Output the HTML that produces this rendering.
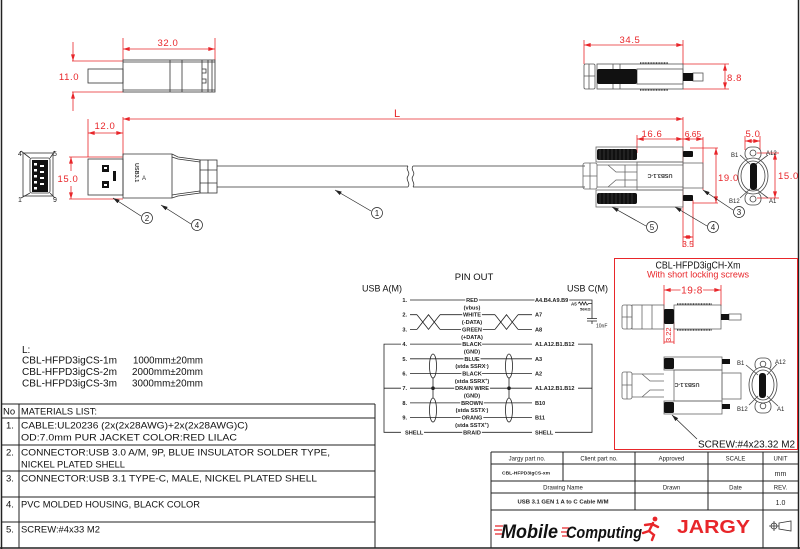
<!DOCTYPE html>
<html><head><meta charset="utf-8"><style>
html,body{margin:0;padding:0;background:#fff;}
svg{display:block;}
.t{font-family:"Liberation Sans",Arial,sans-serif;}
.r{fill:#e8262a;font-size:9.5px;letter-spacing:0.6px;}
.p{font-size:5.6px;font-weight:bold;fill:#222;}
.h{stroke:#fff;stroke-width:2.5px;paint-order:stroke;}
.m{font-size:9.5px;fill:#111;}
.tb{font-size:6px;fill:#222;}
</style></head><body>
<svg width="800" height="549" viewBox="0 0 800 549" xmlns="http://www.w3.org/2000/svg" class="t">
<defs>
<marker id="a" viewBox="0 0 10 6" refX="10" refY="3" markerWidth="7" markerHeight="4" orient="auto-start-reverse" markerUnits="userSpaceOnUse"><path d="M0,0L10,3L0,6z" fill="#e8262a"/></marker>
<marker id="k" viewBox="0 0 10 6" refX="10" refY="3" markerWidth="7" markerHeight="4" orient="auto-start-reverse" markerUnits="userSpaceOnUse"><path d="M0,0L10,3L0,6z" fill="#222"/></marker>
</defs>
<rect width="800" height="549" fill="#fff"/>
<!-- page border -->
<path d="M1.5,0V549 M798.5,0V549 M0,548H800" stroke="#222" stroke-width="1.5" fill="none"/>

<!-- ===== TOP LEFT USB-A top view ===== -->
<g stroke="#e8262a" stroke-width="0.8" fill="none">
<path d="M123,38V60 M215,38V60 M72,61H123 M72,92H123"/>
<line x1="123" y1="49" x2="215" y2="49" marker-start="url(#a)" marker-end="url(#a)"/>
<line x1="73" y1="42" x2="73" y2="61" marker-end="url(#a)"/>
<line x1="73" y1="111" x2="73" y2="92" marker-end="url(#a)"/>
</g>
<text class="r" x="168" y="46" text-anchor="middle">32.0</text>
<text class="r" x="69" y="80" text-anchor="middle">11.0</text>
<g stroke="#333" stroke-width="0.8" fill="none">
<rect x="88" y="69" width="35" height="14"/>
<rect x="123" y="60" width="92" height="32"/>
<path d="M170,60V92 M182,60V92 M202,60V92 M208,60V92 M212,60V92 M123,62H215 M123,90H215 M202,69H206V73H202 M202,79H206V83H202"/>
</g>

<!-- ===== MIDDLE LEFT USB-A ===== -->
<!-- face -->
<g stroke="#333" stroke-width="0.8" fill="none">
<rect x="23" y="153" width="30" height="43"/>
<rect x="30" y="158" width="20" height="35" rx="2"/>
<path d="M21,151L30,158 M55,151L50,158 M21,198L30,193 M55,198L50,193"/>
</g>
<rect x="32" y="160" width="16" height="32" fill="#111"/>
<g fill="#fff">
<rect x="34" y="163" width="3" height="2.5"/><rect x="34" y="169" width="3" height="2.5"/><rect x="34" y="175" width="3" height="2.5"/><rect x="34" y="181" width="3" height="2.5"/><rect x="34" y="187" width="3" height="2.5"/>
<rect x="40" y="165" width="4" height="2"/><rect x="40" y="171" width="4" height="2"/><rect x="40" y="177" width="4" height="2"/><rect x="40" y="183" width="4" height="2"/>
</g>
<g font-size="7" fill="#222"><text x="18" y="156">4</text><text x="53" y="156">5</text><text x="18" y="202">1</text><text x="53" y="202">9</text></g>

<g stroke="#e8262a" stroke-width="0.8" fill="none">
<path d="M88,119V157 M123,117V156 M69,157H123 M69,199H123"/>
<line x1="88" y1="133" x2="123" y2="133" marker-start="url(#a)" marker-end="url(#a)"/>
<line x1="123" y1="119" x2="683" y2="119" marker-start="url(#a)" marker-end="url(#a)"/>
<line x1="71" y1="171" x2="71" y2="157" marker-end="url(#a)"/>
<line x1="71" y1="186" x2="71" y2="199" marker-end="url(#a)"/>
</g>
<text class="r" x="105" y="129" text-anchor="middle">12.0</text>
<text x="397" y="117" fill="#e8262a" font-size="11" text-anchor="middle">L</text>
<text class="r" x="68" y="182" text-anchor="middle" style="stroke:#fff;stroke-width:2px;paint-order:stroke">15.0</text>

<g stroke="#333" stroke-width="0.8" fill="none">
<rect x="88" y="159" width="35" height="36"/>
<path d="M123,154H172L178,157L200,160V193L178,196L172,198H123Z"/>
<path d="M172,157L178,159L200,162 M172,195L178,194L200,191 M172,154V198"/>
<rect x="200" y="160" width="17" height="33"/>
<path d="M208,160V193 M200,170H217 M200,183H217"/>
<path d="M217,166H408 M217,187H408 M413,166H585 M413,187H585"/>
<path d="M408,166C405,170 411,172 408,176C405,180 411,183 408,187 M413,166C410,170 416,172 413,176C410,180 416,183 413,187"/>
</g>
<rect x="102" y="165" width="7" height="7" fill="#111"/><rect x="104" y="167" width="3" height="2" fill="#fff"/>
<rect x="102" y="181" width="7" height="7" fill="#111"/><rect x="104" y="184" width="3" height="2" fill="#fff"/>
<rect x="113" y="171" width="3" height="10" fill="#111"/>
<text x="135" y="163" font-size="5.5" font-weight="bold" fill="#333" transform="rotate(90 135 163)">USB3.1</text>
<text x="144" y="180" font-size="6" fill="#333" text-anchor="middle">A</text>

<!-- callouts left -->
<g stroke="#222" stroke-width="0.7" fill="none">
<line x1="141" y1="216" x2="113" y2="198" marker-end="url(#k)"/>
<line x1="191" y1="224" x2="161" y2="205" marker-end="url(#k)"/>
<line x1="371" y1="211" x2="335" y2="190" marker-end="url(#k)"/>
<circle cx="147" cy="218" r="5.5"/><circle cx="197" cy="225" r="5.5"/><circle cx="377" cy="213" r="5.5"/>
</g>
<g font-size="8" fill="#222" text-anchor="middle"><text x="147" y="221">2</text><text x="197" y="228">4</text><text x="377" y="216">1</text></g>

<!-- ===== TOP RIGHT Type-C top view ===== -->
<g stroke="#e8262a" stroke-width="0.8" fill="none">
<path d="M584,40V64 M683,40V64 M683,64H729 M683,89H729"/>
<line x1="584" y1="45" x2="683" y2="45" marker-start="url(#a)" marker-end="url(#a)"/>
<line x1="725" y1="64" x2="725" y2="89" marker-start="url(#a)" marker-end="url(#a)"/>
</g>
<text class="r" x="630" y="43" text-anchor="middle">34.5</text>
<text class="r" x="727" y="81">8.8</text>
<g stroke="#555" stroke-width="0.8" fill="none">
<rect x="584" y="64" width="11" height="25" rx="1.5"/>
<path d="M589,64V89 M584,76H595"/>
<rect x="597" y="64" width="86" height="25"/>
<rect x="637" y="69" width="46" height="15"/>
<rect x="693" y="73" width="10" height="8"/>
<path d="M613,64V89 M620,64V89"/>
</g>
<rect x="597" y="69" width="40" height="15" rx="2" fill="#111"/>
<rect x="683" y="73" width="10" height="8" fill="#111"/>
<path d="M640,63H668 M640,90H668" stroke="#222" stroke-width="1.3" stroke-dasharray="1,0.6"/>

<!-- ===== MIDDLE RIGHT Type-C side view ===== -->
<g stroke="#e8262a" stroke-width="0.8" fill="none">
<path d="M683,117V247 M637,135V153 M703,137V190 M693,200V247 M690,148H718 M693,203H718 M745,136V150 M760,136V150 M757,153H779 M757,198H779"/>
<line x1="637" y1="139" x2="683" y2="139" marker-start="url(#a)" marker-end="url(#a)"/>
<line x1="683" y1="139" x2="703" y2="139" marker-start="url(#a)" marker-end="url(#a)"/>
<line x1="683" y1="237" x2="693" y2="237" marker-start="url(#a)" marker-end="url(#a)"/>
<line x1="716" y1="148" x2="716" y2="203" marker-start="url(#a)" marker-end="url(#a)"/>
<line x1="745" y1="141" x2="760" y2="141" marker-start="url(#a)" marker-end="url(#a)"/>
<line x1="775" y1="153" x2="775" y2="198" marker-start="url(#a)" marker-end="url(#a)"/>
</g>
<text class="r" x="652" y="137" text-anchor="middle">16.6</text>
<text class="r" x="693" y="137" text-anchor="middle" font-size="8.5" style="font-size:8.5px;letter-spacing:0">6.65</text>
<text class="r" x="688" y="247" text-anchor="middle" style="font-size:8.5px;letter-spacing:0">3.5</text>
<text class="r" x="718" y="181">19.0</text>
<text class="r" x="753" y="137" text-anchor="middle">5.0</text>
<text class="r" x="778" y="179">15.0</text>

<g stroke="#666" stroke-width="0.8" fill="none">
<rect x="596" y="147" width="87" height="15"/>
<rect x="596" y="190" width="87" height="17"/>
<rect x="637" y="162" width="46" height="28"/>
<rect x="683" y="163" width="20" height="25"/>
<rect x="583" y="163" width="14" height="26" rx="2"/>
<path d="M590,163V189 M583,176H597 M597,165H637 M597,187H637 M608,165L616,172H637 M608,187L616,180H637 M625,165V187"/>
<path d="M637,165H683 M637,187H683"/>
</g>
<rect x="597" y="149" width="40" height="11" rx="2" fill="#111"/>
<rect x="597" y="193" width="40" height="11" rx="2" fill="#111"/>
<path d="M600,149V160M604,149V160M608,149V160M612,149V160M616,149V160M620,149V160M624,149V160M628,149V160M632,149V160 M600,193V204M604,193V204M608,193V204M612,193V204M616,193V204M620,193V204M624,193V204M628,193V204M632,193V204" stroke="#555" stroke-width="0.5"/>
<rect x="683" y="151" width="10" height="6" rx="1" fill="#111"/>
<rect x="683" y="195" width="10" height="6" rx="1" fill="#111"/>
<text x="660" y="178" font-size="5.5" font-weight="bold" fill="#333" text-anchor="middle" transform="rotate(180 660 176)">USB3.1-C</text>

<!-- face view C -->
<g stroke="#444" stroke-width="0.8" fill="none">
<rect x="745" y="147" width="16" height="13" rx="6"/>
<rect x="745" y="192" width="16" height="13" rx="6"/>
<ellipse cx="753" cy="176" rx="15" ry="18" fill="#fff"/>
<ellipse cx="753" cy="176" rx="12" ry="15"/>
<circle cx="753" cy="153" r="3"/>
<circle cx="753" cy="199" r="3"/>
<path d="M740,155L750,164 M768,155L756,164 M740,198L750,189 M768,198L756,189"/>
</g>
<rect x="750" y="163" width="7" height="27" rx="3" fill="#111"/>
<g font-size="6" fill="#222"><text x="731" y="157">B1</text><text x="766" y="155">A12</text><text x="729" y="203">B12</text><text x="769" y="203">A1</text></g>

<!-- callouts right -->
<g stroke="#222" stroke-width="0.7" fill="none">
<line x1="646" y1="226" x2="612" y2="207" marker-end="url(#k)"/>
<line x1="707" y1="226" x2="675" y2="207" marker-end="url(#k)"/>
<line x1="733" y1="210" x2="703" y2="190" marker-end="url(#k)"/>
<circle cx="652" cy="227" r="5.5"/><circle cx="713" cy="227" r="5.5"/><circle cx="739" cy="212" r="5.5"/>
</g>
<g font-size="8" fill="#222" text-anchor="middle"><text x="652" y="230">5</text><text x="713" y="230">4</text><text x="739" y="215">3</text></g>

<!-- ===== L list ===== -->
<g font-size="10" fill="#111">
<text x="22" y="353">L:</text>
<text x="22" y="363.5" textLength="95" lengthAdjust="spacingAndGlyphs">CBL-HFPD3igCS-1m</text><text x="133" y="363.5" textLength="70" lengthAdjust="spacingAndGlyphs">1000mm±20mm</text>
<text x="22" y="375" textLength="95" lengthAdjust="spacingAndGlyphs">CBL-HFPD3igCS-2m</text><text x="132" y="375" textLength="71" lengthAdjust="spacingAndGlyphs">2000mm±20mm</text>
<text x="22" y="386.5" textLength="95" lengthAdjust="spacingAndGlyphs">CBL-HFPD3igCS-3m</text><text x="132" y="386.5" textLength="71" lengthAdjust="spacingAndGlyphs">3000mm±20mm</text>
</g>

<!-- ===== Materials table ===== -->
<path d="M1,404H375 M1,418H375 M1,445H375 M1,471H375 M1,497H375 M1,522H375 M19,404V548 M375,404V548" stroke="#222" stroke-width="1" fill="none"/>
<g class="m">
<text x="3" y="414.5">No</text><text x="21" y="414.5" textLength="76" lengthAdjust="spacingAndGlyphs">MATERIALS LIST:</text>
<text x="6" y="428.5">1.</text><text x="21" y="428.5" textLength="227" lengthAdjust="spacingAndGlyphs">CABLE:UL20236 (2x(2x28AWG)+2x(2x28AWG)C)</text>
<text x="21" y="440.5" textLength="216" lengthAdjust="spacingAndGlyphs">OD:7.0mm  PUR JACKET COLOR:RED LILAC</text>
<text x="6" y="455.5">2.</text><text x="21" y="455.5" textLength="309" lengthAdjust="spacingAndGlyphs">CONNECTOR:USB 3.0 A/M, 9P, BLUE INSULATOR SOLDER TYPE,</text>
<text x="21" y="467.5" textLength="104" lengthAdjust="spacingAndGlyphs">NICKEL PLATED SHELL</text>
<text x="6" y="481.5">3.</text><text x="21" y="481.5" textLength="296" lengthAdjust="spacingAndGlyphs">CONNECTOR:USB 3.1 TYPE-C, MALE, NICKEL PLATED SHELL</text>
<text x="6" y="507.5">4.</text><text x="21" y="507.5" textLength="179" lengthAdjust="spacingAndGlyphs">PVC MOLDED HOUSING, BLACK COLOR</text>
<text x="6" y="532.5">5.</text><text x="21" y="532.5" textLength="79" lengthAdjust="spacingAndGlyphs">SCREW:#4x33 M2</text>
</g>

<!-- ===== PIN OUT ===== -->
<g font-size="9.5" fill="#111">
<text x="474" y="280" text-anchor="middle">PIN OUT</text>
<text x="362" y="291.5" textLength="40" lengthAdjust="spacingAndGlyphs">USB A(M)</text>
<text x="567" y="291.5" textLength="41" lengthAdjust="spacingAndGlyphs">USB C(M)</text>
</g>
<g stroke="#222" stroke-width="0.8" fill="none">
<!-- row lines -->
<path d="M410,300H564 M410,344.1H532 M410,358.8H532 M410,373.5H532 M410,388.2H532 M410,402.9H532 M410,417.6H532 M424,432.3H532"/>
<path d="M410,314.7H417 M410,329.4H417 M440,314.7H495 M440,329.4H495 M518,314.7H532 M518,329.4H532"/>
<path d="M417,314.7L428.5,329.4L440,314.7 M417,329.4L428.5,314.7L440,329.4 M495,314.7L506.5,329.4L518,314.7 M495,329.4L506.5,314.7L518,329.4"/>
<!-- brackets -->
<path d="M401,344.1H384V432.3H401 M384,388.2H401"/>
<path d="M578,344.1H592V432.3H555 M578,388.2H592"/>
<path d="M564,300H592V318.5 M587,318.5H597 M587,321H597 M592,321V324"/>
<path d="M578,303.5l1.5,-1.5l1.5,3l1.5,-3l1.5,3l1.5,-3l1.5,3l1.5,-1.5H592"/>
<!-- shields -->
<ellipse cx="433" cy="366" rx="3.5" ry="12"/><ellipse cx="433" cy="410" rx="3.5" ry="12"/>
<ellipse cx="509" cy="366" rx="3.5" ry="12"/><ellipse cx="509" cy="410" rx="3.5" ry="12"/>
<path d="M433,378V398 M509,378V398"/>
</g>
<circle cx="433" cy="388.2" r="1.8" fill="#222"/><circle cx="509" cy="388.2" r="1.8" fill="#222"/>
<g class="p">
<g text-anchor="end">
<text x="407" y="302">1.</text><text x="407" y="316.7">2.</text><text x="407" y="331.4">3.</text><text x="407" y="346.1">4.</text><text x="407" y="360.8">5.</text><text x="407" y="375.5">6.</text><text x="407" y="390.2">7.</text><text x="407" y="404.9">8.</text><text x="407" y="419.6">9.</text>
</g>
<text x="405" y="434.3">SHELL</text>
<g text-anchor="middle">
<text class="h" x="472" y="302">RED</text><text class="h" x="472" y="316.7">WHITE</text><text class="h" x="472" y="331.4">GREEN</text><text class="h" x="472" y="346.1">BLACK</text><text class="h" x="472" y="360.8">BLUE</text><text class="h" x="472" y="375.5">BLACK</text><text class="h" x="472" y="390.2">DRAIN WIRE</text><text class="h" x="472" y="404.9">BROWN</text><text class="h" x="472" y="419.6">ORANG</text><text class="h" x="472" y="434.3">BRAID</text>
<text x="472" y="309.5">(vbus)</text><text x="472" y="324">(-DATA)</text><text x="472" y="339">(+DATA)</text><text x="472" y="353.5">(GND)</text><text x="472" y="368">(stda SSRX<tspan dy="-2" font-size="4">-</tspan><tspan dy="2">)</tspan></text><text x="472" y="383">(stda SSRX<tspan dy="-2" font-size="4">+</tspan><tspan dy="2">)</tspan></text><text x="472" y="397.5">(GND)</text><text x="472" y="412">(stda SSTX<tspan dy="-2" font-size="4">-</tspan><tspan dy="2">)</tspan></text><text x="472" y="427">(stda SSTX<tspan dy="-2" font-size="4">+</tspan><tspan dy="2">)</tspan></text>
</g>
<g>
<text class="h" x="535" y="302">A4.B4.A9.B9</text><text x="535" y="316.7">A7</text><text x="535" y="331.4">A8</text><text class="h" x="535" y="346.1">A1.A12.B1.B12</text><text x="535" y="360.8">A3</text><text x="535" y="375.5">A2</text><text class="h" x="535" y="390.2">A1.A12.B1.B12</text><text x="535" y="404.9">B10</text><text x="535" y="419.6">B11</text><text class="h" x="535" y="434.3">SHELL</text>
</g>
<text x="571" y="305.5" font-size="4.5">A5</text><text x="580" y="310.5" font-size="4">56KΩ</text>
<text x="596" y="327.5" font-size="5" font-weight="normal">10nF</text>
</g>

<!-- ===== Right red box ===== -->
<rect x="614.5" y="258.5" width="183" height="191" fill="none" stroke="#e8262a" stroke-width="1"/>
<text x="698" y="268.5" font-size="10" fill="#111" text-anchor="middle" textLength="85" lengthAdjust="spacingAndGlyphs">CBL-HFPD3igCH-Xm</text>
<text x="698" y="277.5" font-size="9.5" fill="#e8262a" text-anchor="middle" textLength="102" lengthAdjust="spacingAndGlyphs">With short locking screws</text>
<g stroke="#e8262a" stroke-width="0.8" fill="none">
<path d="M664,285V344 M721,285V306 M674,322V344"/>
<line x1="664" y1="290" x2="721" y2="290" marker-start="url(#a)" marker-end="url(#a)"/>
<line x1="664" y1="342" x2="674" y2="342"/>
</g>
<text class="r" x="692" y="293.5" text-anchor="middle" style="font-size:10px;stroke:#fff;stroke-width:3px;paint-order:stroke">19.8</text>
<text x="671" y="342" font-size="7.5" fill="#e8262a" transform="rotate(-90 671 342)">3.22</text>
<g stroke="#666" stroke-width="0.8" fill="none">
<rect x="622" y="305" width="10" height="24" rx="2"/>
<path d="M627,305V329 M622,317H632"/>
<rect x="632" y="305" width="32" height="24"/>
<path d="M642,305V329 M652,305V329"/>
<rect x="674" y="305" width="47" height="24"/>
<rect x="729" y="314" width="12" height="6"/>
</g>
<rect x="664" y="309" width="10" height="15" rx="1.5" fill="#111"/>
<rect x="721" y="314" width="8" height="6" fill="#111"/>
<path d="M677,304H712 M677,330H712" stroke="#222" stroke-width="1.2" stroke-dasharray="1,0.6"/>

<g stroke="#666" stroke-width="0.8" fill="none">
<rect x="664" y="357" width="58" height="13"/>
<rect x="664" y="401" width="58" height="13"/>
<rect x="674" y="370" width="48" height="31"/>
<rect x="722" y="373" width="19" height="26"/>
<rect x="622" y="372" width="10" height="27" rx="2"/>
<path d="M627,372V399 M622,385H632 M632,374H664 M632,397H664 M642,374L650,381H664 M642,397L650,390H664"/>
</g>
<rect x="664" y="358" width="10" height="11" rx="1.5" fill="#111"/>
<rect x="664" y="402" width="10" height="11" rx="1.5" fill="#111"/>
<rect x="722" y="359" width="8" height="5" fill="#111"/>
<rect x="722" y="404" width="8" height="5" fill="#111"/>
<text x="687" y="387" font-size="5.5" font-weight="bold" fill="#333" text-anchor="middle" transform="rotate(180 687 385)">USB3.1-C</text>
<g stroke="#444" stroke-width="0.8" fill="none">
<rect x="755" y="358" width="16" height="13" rx="6"/>
<rect x="755" y="400" width="16" height="13" rx="6"/>
<ellipse cx="763" cy="385" rx="14" ry="18" fill="#fff"/>
<ellipse cx="763" cy="385" rx="11" ry="15"/>
<circle cx="763" cy="364" r="2.8"/><circle cx="763" cy="406" r="2.8"/>
<path d="M746,365L758,375 M777,364L767,375 M749,405L758,396 M778,406L767,396"/>
</g>
<rect x="759" y="373" width="7" height="25" rx="3" fill="#111"/>
<g font-size="6" fill="#222"><text x="737" y="365">B1</text><text x="775" y="364">A12</text><text x="737" y="411">B12</text><text x="777" y="411">A1</text></g>
<line x1="697" y1="439" x2="672" y2="415" stroke="#222" stroke-width="0.7" marker-end="url(#k)"/>
<text x="698" y="447.5" font-size="10" fill="#111" textLength="97" lengthAdjust="spacingAndGlyphs">SCREW:#4x23.32 M2</text>

<!-- ===== Title block ===== -->
<g stroke="#222" stroke-width="1" fill="none">
<path d="M491,452H798 M491,464H798 M491,481H798 M491,493H798 M491,510H798 M491,452V548 M563,452V481 M635,452V510 M708,452V510 M763,452V548"/>
</g>
<g class="tb" text-anchor="middle">
<text x="527" y="460.5">Jargy part no.</text><text x="599" y="460.5">Client part no.</text><text x="671.5" y="460.5">Approved</text><text x="735.5" y="460.5">SCALE</text><text x="780.5" y="460.5">UNIT</text>
<text x="526" y="474.5" font-size="4.5" font-weight="bold" textLength="48" lengthAdjust="spacingAndGlyphs">CBL-HFPD3igCS-xm</text><text x="780.5" y="476" font-size="7">mm</text>
<text x="563" y="489.5">Drawing Name</text><text x="671.5" y="489.5">Drawn</text><text x="735.5" y="489.5">Date</text><text x="780.5" y="489.5">REV.</text>
<text x="563" y="503.5" font-size="5.2" font-weight="bold" textLength="91" lengthAdjust="spacingAndGlyphs">USB 3.1 GEN 1 A to C Cable M/M</text><text x="780.5" y="505" font-size="7">1.0</text>
</g>
<!-- logos -->
<g stroke="#e8262a" stroke-width="1.2">
<path d="M495,526H503 M494,530H502 M495,534H503 M562,528H569 M561,532H568 M562,536H569"/>
</g>
<text x="501" y="538" font-size="19" font-weight="bold" font-style="italic" fill="#111" textLength="57" lengthAdjust="spacingAndGlyphs">Mobile</text>
<text x="566" y="538" font-size="17" font-weight="bold" font-style="italic" fill="#111" textLength="76" lengthAdjust="spacingAndGlyphs">Computing</text>
<g stroke="#e8262a" stroke-width="2.4" fill="none" stroke-linecap="round">
<circle cx="655" cy="519" r="2.4" fill="#e8262a" stroke="none"/>
<path d="M653,523L649,531L643,533 M649,531L654,535L652,540 M645,525L652,524L658,527"/>
</g>
<text x="677" y="533" font-size="18" font-weight="bold" fill="#e8262a" textLength="73" lengthAdjust="spacingAndGlyphs">JARGY</text>
<g stroke="#333" stroke-width="0.8" fill="none">
<circle cx="774" cy="526" r="3"/><path d="M769,526H779 M774,521V531 M779,523L791,521V531L779,529Z"/>
</g>
</svg>
</body></html>
